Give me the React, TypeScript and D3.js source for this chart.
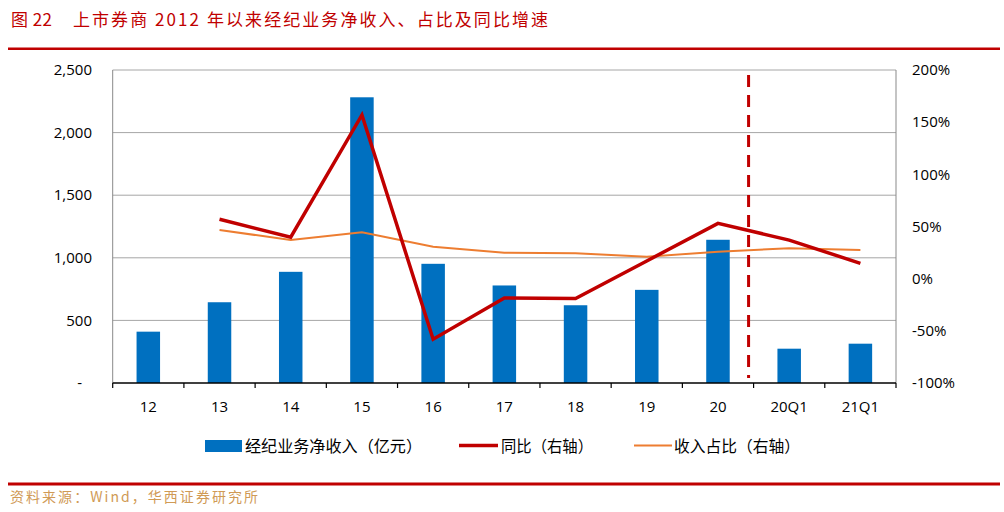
import React from "react";
import * as d3 from "d3";

const categories = ["12", "13", "14", "15", "16", "17", "18", "19", "20", "20Q1", "21Q1"];
const revenue = [410, 645, 888, 2282, 952, 779, 621, 744, 1144, 274, 314];
const yoy: (number | null)[] = [null, 56.9, 39.7, 156.9, -58, -18.5, -19, 17, 53, 37, 14.7];
const share: (number | null)[] = [null, 46.7, 37, 44.4, 30.7, 24.9, 24.3, 21, 25.9, 29.1, 27.5];
const leftTicks = [0, 500, 1000, 1500, 2000, 2500];
const rightTicks = [-100, -50, 0, 50, 100, 150, 200];
const titleNo = "图 22";
const title = "上市券商 2012 年以来经纪业务净收入、占比及同比增速";
const source = "资料来源：Wind，华西证券研究所";
const legendLabels = ["经纪业务净收入（亿元）", "同比（右轴）", "收入占比（右轴）"];

const FONT = "'Open Sans', 'Noto Sans CJK SC', sans-serif";
const CJK = "'Noto Sans CJK SC', sans-serif";

export default function App() {
  const W = 1004, H = 512;
  const left = 112.7, right = 896, top = 70, bottom = 383;
  const x = d3.scaleBand().domain(categories).range([left, right]).paddingInner(0).paddingOuter(0);
  const yL = d3.scaleLinear().domain([0, 2500]).range([bottom, top]);
  const yR = d3.scaleLinear().domain([-100, 200]).range([bottom, top]);
  const bw = x.bandwidth() * 0.33;
  const cx = (c: string) => (x(c) as number) + x.bandwidth() / 2;

  const lineGen = d3
    .line<[string, number | null]>()
    .defined((d) => d[1] !== null)
    .x((d) => cx(d[0]))
    .y((d) => yR(d[1] as number));
  const yoyPath = lineGen(categories.map((c, i) => [c, yoy[i]]));
  const sharePath = lineGen(categories.map((c, i) => [c, share[i]]));
  const dashX = (x("20Q1") as number) - 5;

  return (
    <svg width={W} height={H} style={{ position: "absolute", left: 0, top: 0, background: "#fff" }}>
      <rect x={0} y={0} width={W} height={H} fill="#fff" />
      {/* title */}
      <text x={11} y={26} fill="#c00000" fontSize={17} fontFamily={CJK} textLength={41} lengthAdjust="spacing">
        {titleNo}
      </text>
      <text x={73} y={26} fill="#c00000" fontSize={17} fontFamily={CJK} textLength={475} lengthAdjust="spacing">
        {title}
      </text>
      <line x1={8} x2={1000} y1={48.7} y2={48.7} stroke="#c00000" strokeWidth={2.6} />

      {/* gridlines */}
      {leftTicks.map((t) =>
        t === 0 ? null : (
          <line key={t} x1={left} x2={right} y1={yL(t)} y2={yL(t)} stroke="#a6a6a6" strokeWidth={1} />
        )
      )}
      {/* left & right axis lines */}
      <line x1={left} x2={left} y1={top} y2={bottom} stroke="#898989" strokeWidth={1} />
      <line x1={right} x2={right} y1={top} y2={bottom} stroke="#898989" strokeWidth={1} />

      {/* bars */}
      {categories.map((c, i) => (
        <rect key={c} x={cx(c) - bw / 2} y={yL(revenue[i])} width={bw} height={bottom - yL(revenue[i])} fill="#0070c0" />
      ))}

      {/* bottom axis */}
      <line x1={left} x2={right} y1={bottom} y2={bottom} stroke="#000" strokeWidth={1.3} />
      {categories.map((c) => (
        <line key={"t" + c} x1={x(c)} x2={x(c)} y1={bottom} y2={bottom + 5} stroke="#000" strokeWidth={1.2} />
      ))}
      <line x1={right} x2={right} y1={bottom} y2={bottom + 5} stroke="#000" strokeWidth={1.2} />

      {/* lines */}
      <path d={sharePath || ""} fill="none" stroke="#ed7d31" strokeWidth={2} />
      <path d={yoyPath || ""} fill="none" stroke="#c00000" strokeWidth={3.5} strokeLinejoin="miter" />

      {/* dashed vertical */}
      <line x1={dashX} x2={dashX} y1={75} y2={378} stroke="#c00000" strokeWidth={3} strokeDasharray="12,8" />

      {/* left tick labels */}
      {leftTicks.map((t) => (
        <text key={"l" + t} x={t === 0 ? 82 : 92} y={yL(t)} dy="0.35em" textAnchor="end" fontSize={15} fontFamily={FONT} fill="#000">
          {t === 0 ? "-" : d3.format(",")(t)}
        </text>
      ))}
      {/* right tick labels */}
      {rightTicks.map((t) => (
        <text key={"r" + t} x={912} y={yR(t)} dy="0.35em" textAnchor="start" fontSize={15} fontFamily={FONT} fill="#000">
          {t + "%"}
        </text>
      ))}
      {/* category labels */}
      {categories.map((c) => (
        <text key={"c" + c} x={cx(c)} y={412} textAnchor="middle" fontSize={15} fontFamily={FONT} fill="#000">
          {c}
        </text>
      ))}

      {/* legend */}
      <rect x={205} y={440} width={37} height={12} fill="#0070c0" />
      <text x={245} y={451.5} fontSize={16} fontFamily={CJK} fill="#000" textLength={177} lengthAdjust="spacingAndGlyphs">{legendLabels[0]}</text>
      <line x1={459} x2={498} y1={445.5} y2={445.5} stroke="#c00000" strokeWidth={3.5} />
      <text x={501} y={451.5} fontSize={16} fontFamily={CJK} fill="#000" textLength={92} lengthAdjust="spacingAndGlyphs">{legendLabels[1]}</text>
      <line x1={634} x2={672} y1={445.5} y2={445.5} stroke="#ed7d31" strokeWidth={2} />
      <text x={674} y={451.5} fontSize={16} fontFamily={CJK} fill="#000" textLength={126} lengthAdjust="spacingAndGlyphs">{legendLabels[2]}</text>

      {/* footer */}
      <line x1={8} x2={1000} y1={484} y2={484} stroke="#c00000" strokeWidth={3} />
      <text x={10} y={502} fontSize={14} fontFamily="'Noto Sans CJK SC', 'DejaVu Sans Mono', monospace" fill="#d09a55" textLength={248} lengthAdjust="spacing">
        {source}
      </text>
    </svg>
  );
}
